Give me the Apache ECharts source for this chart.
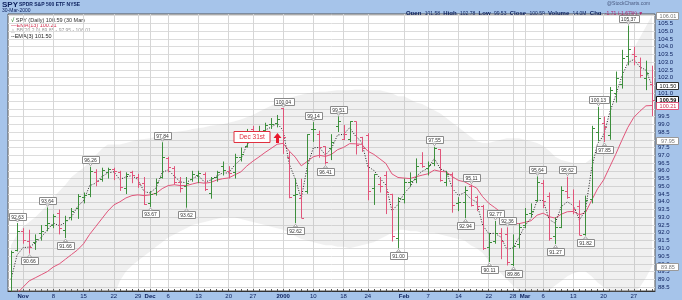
<!DOCTYPE html>
<html>
<head>
<meta charset="utf-8">
<script src="https://cdn.jsdelivr.net/npm/echarts@6/dist/echarts.min.js"></script>
<style>
html,body{margin:0;padding:0;background:#a6c4ea;overflow:hidden}
#chart{width:682px;height:300px}
</style>
</head>
<body>
<div id="chart"></div>
<script>
const dates = ['1999-10-28','1999-10-29',
'1999-11-01','1999-11-02','1999-11-03','1999-11-04','1999-11-05','1999-11-08','1999-11-09','1999-11-10','1999-11-11','1999-11-12','1999-11-15','1999-11-16','1999-11-17','1999-11-18','1999-11-19','1999-11-22','1999-11-23','1999-11-24','1999-11-26','1999-11-29','1999-11-30',
'1999-12-01','1999-12-02','1999-12-03','1999-12-06','1999-12-07','1999-12-08','1999-12-09','1999-12-10','1999-12-13','1999-12-14','1999-12-15','1999-12-16','1999-12-17','1999-12-20','1999-12-21','1999-12-22','1999-12-23','1999-12-27','1999-12-28','1999-12-29','1999-12-30','1999-12-31',
'2000-01-03','2000-01-04','2000-01-05','2000-01-06','2000-01-07','2000-01-10','2000-01-11','2000-01-12','2000-01-13','2000-01-14','2000-01-18','2000-01-19','2000-01-20','2000-01-21','2000-01-24','2000-01-25','2000-01-26','2000-01-27','2000-01-28','2000-01-31',
'2000-02-01','2000-02-02','2000-02-03','2000-02-04','2000-02-07','2000-02-08','2000-02-09','2000-02-10','2000-02-11','2000-02-14','2000-02-15','2000-02-16','2000-02-17','2000-02-18','2000-02-22','2000-02-23','2000-02-24','2000-02-25','2000-02-28','2000-02-29',
'2000-03-01','2000-03-02','2000-03-03','2000-03-06','2000-03-07','2000-03-08','2000-03-09','2000-03-10','2000-03-13','2000-03-14','2000-03-15','2000-03-16','2000-03-17','2000-03-20','2000-03-21','2000-03-22','2000-03-23','2000-03-24','2000-03-27','2000-03-28','2000-03-29','2000-03-30'];

const opens = [87.9,90.9,92.1,91.5,91.4,92.0,92.5,92.5,93.3,92.2,
93.0,93.6,94.3,94.5,95.9,95.5,95.9,96.1,95.9,94.9,
95.9,95.6,95.2,93.9,94.6,95.6,96.8,96.2,95.3,95.0,
95.5,95.7,95.8,94.6,95.6,96.3,96.0,95.9,96.9,97.6,
98.7,98.5,98.6,99.0,99.1,100.04,96.86,94.43,94.22,94.69,
98.69,98.40,97.58,97.49,98.89,98.08,98.06,99.18,98.19,98.29,
94.86,95.15,95.72,94.48,91.65,94.2,95.3,95.5,96.5,96.2,
96.5,97.4,95.3,95.8,93.9,94.0,95.0,94.3,93.7,91.1,
91.5,92.0,91.9,90.0,91.3,92.5,93.3,94.1,95.2,94.4,
91.8,92.4,94.7,93.4,93.7,91.9,94.2,98.5,99.1,98.3,
101.0,101.6,103.4,103.5,103.0,102.0,101.58];
const highs = [90.85,92.63,92.3,92.2,91.9,92.5,93.64,93.2,93.5,93.1,
93.6,94.5,94.6,96.26,96.1,96.2,96.2,96.2,96.0,95.9,
96.0,95.8,95.6,94.7,95.5,97.84,96.9,96.3,95.6,95.6,
96.0,96.0,95.9,95.6,96.0,96.6,96.3,97.1,97.5,98.7,
98.9,98.9,99.1,99.4,99.6,100.04,97.22,95.51,95.49,98.36,
99.14,98.59,97.58,98.36,99.51,98.95,99.20,99.18,98.19,98.42,
95.78,95.60,95.97,94.52,94.30,95.5,95.9,96.8,97.2,96.6,
97.55,97.4,96.0,95.9,94.3,95.0,95.11,94.4,93.8,92.0,
92.77,92.3,92.36,91.9,92.6,93.6,93.9,95.64,95.4,94.6,
93.0,95.0,95.62,94.8,94.1,94.4,98.9,100.13,99.5,101.4,
102.4,103.8,105.37,104.0,103.3,103.1,102.78];
const lows = [87.6,90.8,91.3,90.66,90.9,91.5,92.1,92.3,91.9,91.66,
92.8,92.9,93.9,94.3,95.0,95.3,95.5,95.4,94.7,94.5,
95.2,94.9,93.8,93.67,94.4,95.5,95.9,95.1,94.6,93.62,
95.3,95.2,94.7,94.2,95.3,95.7,95.5,95.5,96.6,97.5,
98.0,98.2,98.4,98.7,98.8,97.09,94.23,92.62,92.96,94.52,
97.87,96.84,96.41,96.69,98.50,97.98,97.85,97.05,97.22,94.10,
93.80,94.60,93.21,91.44,91.00,93.9,95.0,95.2,96.2,95.7,
96.3,95.3,95.0,93.3,93.4,92.94,93.7,93.4,90.9,90.11,
91.3,90.3,89.9,89.86,91.0,92.3,93.0,94.0,93.6,91.5,
91.27,92.3,94.2,93.2,91.85,91.82,93.9,97.9,97.85,98.0,
100.4,101.3,102.8,102.8,102.0,101.2,99.53];
const closes = [90.75,92.13,91.54,91.11,91.59,92.11,92.63,93.09,92.29,92.85,
93.39,94.37,94.45,96.0,95.36,96.05,96.1,96.0,94.95,95.79,
95.76,95.17,93.89,94.49,95.25,96.89,96.22,95.26,94.90,95.19,
95.79,95.85,94.85,95.54,95.91,96.06,95.86,96.90,97.08,98.58,
98.50,98.54,98.93,99.0,99.32,98.15,94.31,94.48,92.96,98.36,
98.69,97.51,96.54,97.85,99.18,98.40,99.20,97.68,97.47,94.71,
95.78,95.02,94.64,91.78,94.22,95.27,95.35,96.33,96.29,96.35,
97.46,95.43,95.78,93.77,93.96,94.78,93.81,93.75,91.0,91.41,
91.98,91.49,90.14,91.13,92.37,93.23,93.41,95.26,94.05,91.64,
92.39,94.75,94.31,93.53,91.88,94.11,98.75,99.4,98.8,101.2,
102.0,103.3,103.85,103.4,102.2,102.3,100.59];
const ema13 = [87.6,88.1,88.5,88.9,89.1,89.3,89.5,89.8,90.0,90.3,
90.6,90.9,91.3,91.9,92.4,92.9,93.4,93.8,94.0,94.25,
94.4,94.45,94.4,94.45,94.55,94.85,95.05,95.1,95.05,95.05,
95.15,95.25,95.2,95.25,95.40,95.49,95.54,95.74,95.93,96.31,
96.62,96.89,97.18,97.44,97.71,97.77,97.28,96.88,96.32,96.61,
96.91,97.00,96.93,97.06,97.36,97.51,97.75,97.74,97.70,97.27,
97.06,96.77,96.47,95.80,95.57,95.53,95.50,95.62,95.72,95.81,
96.05,95.96,95.93,95.62,95.38,95.29,95.08,94.89,94.33,93.91,
93.63,93.33,92.87,92.62,92.59,92.68,92.78,93.14,93.27,93.04,
92.95,93.20,93.36,93.38,93.17,93.30,94.08,94.84,95.41,96.24,
97.06,97.95,98.79,99.45,99.84,100.19,100.21];
const ema3 = [89.0,90.57,91.05,91.08,91.34,91.72,92.18,92.63,92.46,92.66,
93.02,93.70,94.07,95.04,95.20,95.62,95.86,95.93,95.44,95.61,
95.69,95.43,94.66,94.57,94.91,95.90,96.06,95.66,95.28,95.23,
95.51,95.68,95.27,95.40,95.66,95.86,95.86,96.38,96.73,97.66,
98.08,98.31,98.62,98.81,99.06,98.61,96.46,95.47,94.21,96.29,
97.49,97.50,97.02,97.44,98.31,98.35,98.78,98.23,97.85,96.28,
96.03,95.53,95.08,93.43,93.83,94.55,94.95,95.64,95.97,96.16,
96.81,96.12,95.95,94.86,94.41,94.60,94.20,93.98,92.49,91.95,
91.97,91.73,90.93,91.03,91.70,92.47,92.94,94.10,94.08,92.86,
92.62,93.69,94.0,93.76,92.82,93.47,96.11,97.75,98.28,99.74,
100.87,102.08,102.97,103.18,102.69,102.50,101.50];
const bbUpper = [91.2,91.9,92.4,92.7,93.0,93.4,93.8,94.3,94.7,95.1,
95.6,95.9,96.2,96.6,97.0,97.4,97.7,97.7,97.7,97.8,
97.9,98.0,98.05,98.1,98.2,98.3,98.4,98.5,98.55,98.6,
98.7,98.75,98.8,98.9,98.95,99.0,99.1,99.2,99.3,99.45,
99.6,99.8,100.0,100.2,100.4,100.6,100.7,100.8,100.9,101.0,
101.05,101.1,101.1,101.15,101.2,101.2,101.2,101.25,101.25,101.2,
101.2,101.2,101.1,101.0,100.8,100.8,100.6,100.4,100.3,100.1,
99.9,99.7,99.4,99.1,98.8,98.5,98.2,97.9,97.8,97.8,
97.9,98.0,98.1,98.1,98.1,98.0,97.9,97.8,97.6,97.3,
96.9,96.7,96.6,96.5,96.5,96.5,96.8,97.6,98.6,99.8,
100.9,101.9,103.0,103.9,104.6,105.3,106.01];
const bbLower = [84.2,84.0,83.9,83.8,83.7,83.6,83.5,83.3,83.3,83.4,
83.6,84.3,85.0,85.6,86.0,86.6,87.0,87.9,88.9,89.5,
89.9,90.2,90.5,90.8,91.1,91.4,91.7,91.9,92.1,92.3,
92.5,92.6,92.7,92.8,92.9,93.0,93.0,93.0,92.9,92.8,
92.7,92.6,92.5,92.4,92.3,92.2,92.0,91.8,91.6,91.5,
91.4,91.3,91.2,91.2,91.1,91.1,91.0,91.1,91.2,91.3,
91.4,91.6,91.8,92.0,92.2,92.2,92.1,92.1,92.0,92.0,
92.0,91.9,91.8,91.7,91.6,91.5,91.2,91.0,90.7,90.2,
89.8,89.4,89.0,88.6,88.3,88.1,88.0,88.0,88.1,88.3,
88.6,88.9,89.2,89.4,89.5,89.5,89.2,88.8,88.5,88.2,
88.0,87.9,87.9,88.1,88.5,89.1,89.85];

const tickDates = ['1999-11-01','1999-11-08','1999-11-15','1999-11-22','1999-11-29','1999-12-01','1999-12-06','1999-12-13','1999-12-20','1999-12-27','2000-01-03','2000-01-10','2000-01-18','2000-01-24','2000-02-01','2000-02-07','2000-02-14','2000-02-22','2000-02-28','2000-03-01','2000-03-06','2000-03-13','2000-03-20','2000-03-27'];
const tickTexts = ['Nov','8','15','22','29','Dec','6','13','20','27','2000','10','18','24','Feb','7','14','22','28','Mar','6','13','20','27'];
const boldTicks = ['Nov','Dec','2000','Feb','Mar'];

const labelIdx = [1,6,13,25,45,50,54,70,76,80,82,87,92,97,102, 3,9,23,29,47,52,64,75,79,83,90,95,98];
const labelSide = [1,1,1,1,1,1,1,1,1,1,1,1,1,1,1, -1,-1,-1,-1,-1,-1,-1,-1,-1,-1,-1,-1,-1];

const bbMidLast = [97.95];

const GREEN='#3d8f3d', RED='#e0557a', NAVY='#0b1f5c';
const FONT='"Liberation Sans", Arial, sans-serif';
const tickSet = new Set(tickDates);
const tickMap = {}; tickDates.forEach((d,i)=>tickMap[d]=tickTexts[i]);
const N = dates.length;

const ohlcData = dates.map((d,i)=>[i,opens[i],highs[i],lows[i],closes[i], (i===0||closes[i]>=closes[i-1])?1:0]);
const bandWidth = bbUpper.map((u,i)=>+(u-bbLower[i]).toFixed(2));
const labelData = labelIdx.map((k,j)=>[k, labelSide[j]>0?highs[k]:lows[k], labelSide[j]]);
const tagData = [
  [N-1, bbUpper[N-1], 0],
  [N-1, ema3[N-1], 1],
  [N-1, closes[N-1], 2],
  [N-1, ema13[N-1], 3],
  [N-1, bbMidLast[0], 0],
  [N-1, bbLower[N-1], 0]
];
const tagStyles = [
  {fill:'#fff', stroke:'#9a9a9a', text:'#777', bold:false},
  {fill:'#fff', stroke:'#333', text:'#111', bold:false},
  {fill:'#fff', stroke:'#111', text:'#000', bold:true},
  {fill:'#fff', stroke:'#e0557a', text:'#d0304f', bold:false}
];
const decIdx = dates.indexOf('1999-12-31');

function ohlcItem(params, api){
  const i=api.value(0);
  const ph=api.coord([i,api.value(2)]), pl=api.coord([i,api.value(3)]);
  const po=api.coord([i,api.value(1)]), pc=api.coord([i,api.value(4)]);
  const x=Math.round(ph[0])+0.5;
  const col=api.value(5)?GREEN:RED;
  const yo=Math.round(po[1])+0.5, yc=Math.round(pc[1])+0.5;
  return {type:'group', children:[
    {type:'line', shape:{x1:x,y1:ph[1],x2:x,y2:pl[1]}, style:{stroke:col,lineWidth:1}},
    {type:'line', shape:{x1:x-2.5,y1:yo,x2:x,y2:yo}, style:{stroke:col,lineWidth:1}},
    {type:'line', shape:{x1:x,y1:yc,x2:x+2.5,y2:yc}, style:{stroke:col,lineWidth:1}}
  ]};
}
function labelItem(params, api){
  const i=api.value(0), v=api.value(1), side=api.value(2);
  const p=api.coord([i,v]);
  const txt=v.toFixed(2);
  const x=Math.round(p[0])+0.5;
  const w=txt.length*2.8+3, h=7;
  let by, tri;
  if(side>0){ by=p[1]-3.5-h; tri=[[x-2,p[1]-3.5],[x+2,p[1]-3.5],[x,p[1]-1]]; }
  else { by=p[1]+3.5; tri=[[x-2,p[1]+3.5],[x+2,p[1]+3.5],[x,p[1]+1]]; }
  by=Math.round(by)+0.5;
  return {type:'group', children:[
    {type:'rect', shape:{x:Math.round(x-w/2)+0.5,y:by,width:Math.round(w),height:h}, style:{fill:'#fff',stroke:'#8a8a8a',lineWidth:1}},
    {type:'polygon', shape:{points:tri}, style:{fill:'#fff',stroke:'#8a8a8a',lineWidth:0.7}},
    {type:'text', style:{text:txt,x:x,y:by+h/2+0.5,align:'center',verticalAlign:'middle',font:'5px '+FONT,fill:'#333'}}
  ]};
}
function tagItem(params, api){
  const v=api.value(1), s=tagStyles[api.value(2)];
  const p=api.coord([api.value(0),v]);
  const cs=params.coordSys; const xr=cs.x+cs.width+1;
  const txt=v.toFixed(2);
  const y=Math.round(p[1]-3.5)+0.5;
  return {type:'group', children:[
    {type:'rect', shape:{x:xr+0.5,y:y,width:22,height:7}, style:{fill:s.fill,stroke:s.stroke,lineWidth:1}},
    {type:'text', style:{text:txt,x:xr+12,y:y+4,align:'center',verticalAlign:'middle',font:(s.bold?'bold ':'')+'5.5px '+FONT,fill:s.text}}
  ]};
}
function noteItem(params, api){
  const i=api.value(0);
  const p=api.coord([i,api.value(1)]);
  const x=Math.round(p[0])+0.5, y=p[1];
  const ay=Math.round(y+6);
  return {type:'group', children:[
    {type:'rect', shape:{x:x-43.5,y:ay-1.5,width:36,height:11}, style:{fill:'#fff',stroke:'#e0303f',lineWidth:1}},
    {type:'text', style:{text:'Dec 31st',x:x-25.5,y:ay+4.5,align:'center',verticalAlign:'middle',font:'6.5px '+FONT,fill:'#e0303f'}},
    {type:'polygon', shape:{points:[[x,ay],[x-4,ay+5],[x-1.5,ay+5],[x-1.5,ay+10],[x+1.5,ay+10],[x+1.5,ay+5],[x+4,ay+5]]}, style:{fill:'#e8192c'}}
  ]};
}

const chart = echarts.init(document.getElementById('chart'), null, {renderer:'canvas', width:682, height:300});
const labelShow = (i,v)=>tickSet.has(v);
chart.setOption({
  animation:false,
  backgroundColor:'#a6c4ea',
  grid:{left:8,right:27,top:14,bottom:9,show:true,backgroundColor:'#ffffff',borderColor:'#555',borderWidth:1},
  xAxis:{type:'category',data:dates,boundaryGap:true,
    axisLine:{show:true,lineStyle:{color:'#333',width:1}},
    axisTick:{show:true,interval:0,inside:true,length:2,alignWithLabel:true,lineStyle:{color:'#555'}},
    axisLabel:{interval:labelShow,margin:2.5,fontSize:6,fontFamily:'Liberation Sans',color:NAVY,
      formatter:v=>{const t=tickMap[v]||''; return boldTicks.includes(t)?'{b|'+t+'}':t;},
      rich:{b:{fontWeight:'bold',fontSize:6,fontFamily:'Liberation Sans',color:NAVY}}},
    splitLine:{show:true,interval:labelShow,alignWithLabel:true,lineStyle:{color:'#d6d6d6',width:1}}
  },
  yAxis:{type:'value',position:'right',min:88.25,max:106.11,interval:0.25,scale:true,
    axisLine:{show:false},axisTick:{show:false},
    axisLabel:{margin:3,fontSize:6,fontFamily:'Liberation Sans',color:NAVY,
      formatter:v=>{const d=v*2; return Math.abs(d-Math.round(d))<1e-6 ? v.toFixed(1) : '';}},
    splitLine:{show:true,lineStyle:{color:['rgba(0,0,0,0)','#dcdcdc'],width:1}}
  },
  series:[
    {name:'bbLo',type:'line',data:bbLower,stack:'bb',showSymbol:false,lineStyle:{opacity:0},silent:true,z:1},
    {name:'bbBand',type:'line',data:bandWidth,stack:'bb',showSymbol:false,lineStyle:{opacity:0},areaStyle:{color:'rgba(170,170,170,0.25)'},silent:true,z:1},
    {name:'EMA(13)',type:'line',data:ema13,showSymbol:false,lineStyle:{color:'#e0557a',width:1},z:3},
    {name:'EMA(3)',type:'line',data:ema3,showSymbol:false,lineStyle:{color:'#222',width:1,type:[1,1.6]},z:3},
    {name:'SPY',type:'custom',renderItem:ohlcItem,data:ohlcData,clip:true,z:5},
    {name:'labels',type:'custom',renderItem:labelItem,data:labelData,clip:false,z:8},
    {name:'note',type:'custom',renderItem:noteItem,data:[[decIdx,lows[decIdx]]],clip:false,z:8},
    {name:'tags',type:'custom',renderItem:tagItem,data:tagData,clip:false,z:9}
  ],
  graphic:[
    {type:'text',x:2,y:0.5,style:{text:'SPY',font:'bold 8px '+FONT,fill:NAVY}},
    {type:'text',x:19,y:2,style:{text:'SPDR S&P 500 ETF NYSE',font:'bold 5px '+FONT,fill:NAVY}},
    {type:'text',x:2,y:8,style:{text:'30-Mar-2000',font:'5px '+FONT,fill:NAVY}},
    {type:'text',x:607,y:1.5,style:{text:'@StockCharts.com',font:'5px '+FONT,fill:'#4a5a80'}},
    {type:'text',x:406,y:7.5,style:{text:'{k|Open} {v|101.58} {k|High} {v|102.78} {k|Low} {v|99.53} {k|Close} {v|100.59} {k|Volume} {v|14.0M} {k|Chg} {r|-1.71 (-1.67%)}{t| ▼}',
      rich:{k:{font:'bold 6px '+FONT,fill:NAVY},v:{font:'5px '+FONT,fill:NAVY},r:{font:'5px '+FONT,fill:'#b0206a'},t:{font:'5px '+FONT,fill:'#b0206a'}}}},
    {type:'text',x:11,y:17,style:{text:'{g|√} SPY (Daily) 100.59 (30 Mar)',font:'5.5px '+FONT,fill:'#333',rich:{g:{font:'bold 6px '+FONT,fill:GREEN}}}},
    {type:'text',x:11,y:22.5,style:{text:'—EMA(13) 100.21',font:'5.5px '+FONT,fill:'#d0304f'}},
    {type:'text',x:11,y:28,style:{text:'△ BB(20,2.0) 89.85 - 97.95 - 106.01',font:'5px '+FONT,fill:'#999'}},
    {type:'text',x:11,y:33,style:{text:'--EMA(3) 101.50',font:'5.5px '+FONT,fill:'#222'}}
  ]
});
</script>
</body>
</html>
